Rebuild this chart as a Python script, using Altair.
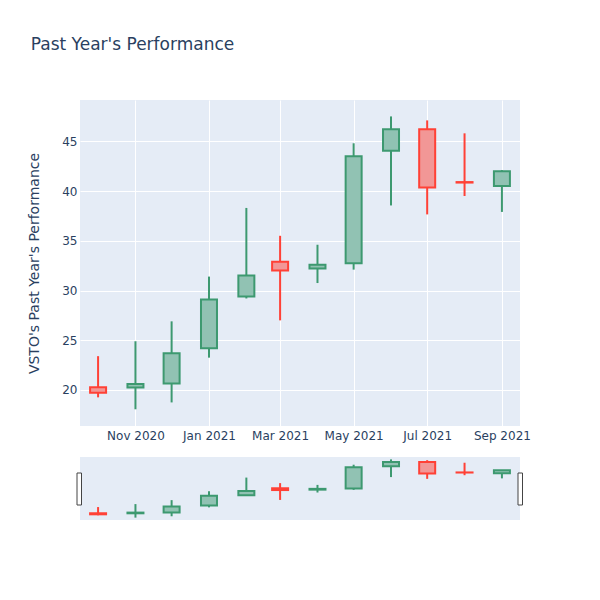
import altair as alt
import pandas as pd

dates = ["2020-10-01", "2020-11-01", "2020-12-01", "2021-01-01", "2021-02-01", "2021-03-01",
         "2021-04-01", "2021-05-01", "2021-06-01", "2021-07-01", "2021-08-01", "2021-09-01"]
opens = [20.27, 20.25, 20.65, 24.2, 29.4, 32.9, 32.2, 32.75, 44.05, 46.2, 40.9, 40.5]
closes = [19.73, 20.6, 23.7, 29.1, 31.5, 32.0, 32.6, 43.5, 46.2, 40.35, 40.85, 42.0]
highs = [23.4, 24.9, 26.9, 31.4, 38.3, 35.5, 34.6, 44.8, 47.5, 47.1, 45.8, 42.1]
lows = [19.26, 18.06, 18.75, 23.25, 29.2, 27.0, 30.75, 32.1, 38.55, 37.65, 39.5, 37.9]

tick_months = [(2020, 11), (2021, 1), (2021, 3), (2021, 5), (2021, 7), (2021, 9)]
y_ticks = [20, 25, 30, 35, 40, 45]

df = pd.DataFrame({"date": dates, "open": opens, "close": closes, "high": highs, "low": lows})
df["dir"] = ["up" if c >= o else "down" for o, c in zip(opens, closes)]

FONT = "DejaVu Sans"
TXT = "#2a3f5f"

x_dom = [alt.DateTime(year=2020, month=9, date=16, utc=True),
         alt.DateTime(year=2021, month=9, date=16, utc=True)]
tick_vals = [alt.DateTime(year=y, month=m, date=1, utc=True) for y, m in tick_months]

stroke_enc = alt.Stroke("dir:N", scale=alt.Scale(domain=["up", "down"], range=["#3D9970", "#FF4136"]), legend=None)
fill_enc = alt.Fill("dir:N", scale=alt.Scale(domain=["up", "down"], range=["#91C2B3", "#F29796"]), legend=None)

def candles(y_scale, x_axis, y_axis, y_title):
    base = alt.Chart(df)
    xenc = alt.X("date:T", scale=alt.Scale(type="utc", domain=x_dom, padding=0), axis=x_axis, title=None)
    wick = base.mark_rule(strokeWidth=2).encode(
        x=xenc,
        y=alt.Y("low:Q", scale=y_scale, axis=y_axis, title=y_title),
        y2="high:Q",
        stroke=stroke_enc,
    )
    body = base.mark_bar(size=16, strokeWidth=2).encode(
        x=xenc,
        y=alt.Y("open:Q"),
        y2="close:Q",
        stroke=stroke_enc,
        fill=fill_enc,
    )
    return wick, body

main_x_axis = alt.Axis(values=tick_vals, labelExpr="utcFormat(datum.value, '%b %Y')", ticks=False, domain=False,
                       grid=True, gridColor="white", gridWidth=1, labelPadding=4,
                       labelFont=FONT, labelFontSize=12, labelColor=TXT)
main_y_axis = alt.Axis(values=y_ticks, ticks=False, domain=False, grid=True, gridColor="white", gridWidth=1,
                       labelPadding=3, labelFont=FONT, labelFontSize=12, labelColor=TXT,
                       titleFont=FONT, titleFontSize=14, titleColor=TXT, titleFontWeight="normal",
                       titlePadding=20)

w1, b1 = candles(alt.Scale(domain=[16.38, 49.15], nice=False, zero=False), main_x_axis, main_y_axis,
                 "VSTO's Past Year's Performance")
main = alt.layer(w1, b1).properties(width=440, height=326)

w2, b2 = candles(alt.Scale(domain=[16.86, 48.7], nice=False, zero=False), None, None, None)
handle_df = pd.DataFrame({"h": ["left", "right"], "x0": [-3, 438], "x1": [1.5, 442.5]})
handles = alt.Chart(handle_df).mark_rect(fill="white", stroke="#444", strokeWidth=1).encode(
    x=alt.X("x0:Q", scale=alt.Scale(domain=[0, 440], range=[0, 440]), axis=None),
    x2="x1:Q",
    y=alt.value(16),
    y2=alt.value(48),
)
slider = alt.layer(w2, b2, handles).resolve_scale(x="independent").properties(width=440, height=63)

chart = alt.vconcat(main, slider, spacing=31, bounds="flush").resolve_scale(
    x="independent", y="independent"
).properties(
    title=alt.TitleParams("Past Year's Performance", anchor="start", frame="bounds", fontSize=17,
                          font=FONT, color=TXT, fontWeight="normal", offset=46, dx=3),
    padding={"left": 19, "top": 28, "right": 5, "bottom": 5},
    background="white",
).configure_view(fill="#e5ecf6", stroke=None)

chart.save("out.html", embed_options={"renderer": "svg", "actions": False})
